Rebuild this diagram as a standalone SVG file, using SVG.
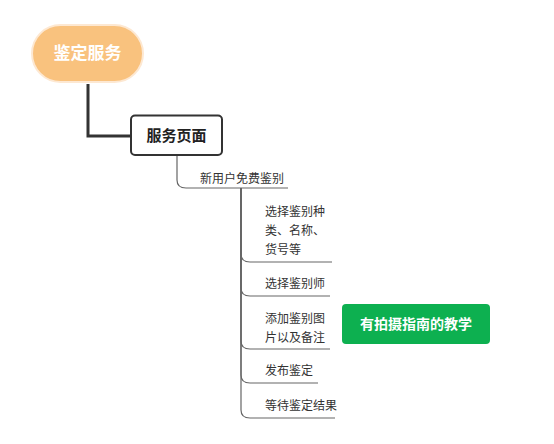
<svg xmlns="http://www.w3.org/2000/svg" width="554" height="444" viewBox="0 0 554 444">
<style>
text{font-family:"Noto Sans CJK SC","Noto Sans",sans-serif;}
.sub{font-size:12px;fill:#333;}
.thin{fill:none;stroke:#666;stroke-width:1.2;}
</style>
<rect width="554" height="444" fill="#fff"/>
<g id="connectors">
<path d="M88,84 V136 H131" fill="none" stroke="#333" stroke-width="3"/>
<path class="thin" d="M177,155 V180 Q177,188 186,188 H288"/>
<path class="thin" d="M241,188 V254 Q241,262 250,262 H332"/>
<path class="thin" d="M241,188 V288 Q241,296 250,296 H330"/>
<path class="thin" d="M241,188 V341 Q241,349 250,349 H330"/>
<path class="thin" d="M241,188 V375 Q241,383 250,383 H318"/>
<path class="thin" d="M241,188 V410 Q241,418 250,418 H335"/>
</g>
<g id="root">
<rect x="32" y="25" width="111" height="57" rx="28.5" fill="#F9C27E" stroke="#FDE8D2" stroke-width="2"/>
<text x="87.5" y="59" font-size="17" font-weight="bold" fill="#fff" text-anchor="middle">鉴定服务</text>
</g>
<g id="page">
<rect x="131" y="115.5" width="91" height="39.5" rx="4" fill="#fff" stroke="#333" stroke-width="2"/>
<text x="176.5" y="140.5" font-size="15" font-weight="bold" fill="#222" text-anchor="middle">服务页面</text>
</g>
<g id="newuser"><text class="sub" x="200" y="183">新用户免费鉴别</text></g>
<g id="choose-type"><text class="sub" x="265" y="216">选择鉴别种</text><text class="sub" x="265" y="235">类、名称、</text><text class="sub" x="265" y="254">货号等</text></g>
<g id="choose-expert"><text class="sub" x="265" y="288">选择鉴别师</text></g>
<g id="add-photo"><text class="sub" x="265" y="323">添加鉴别图</text><text class="sub" x="265" y="342">片以及备注</text></g>
<g id="publish"><text class="sub" x="265" y="375">发布鉴定</text></g>
<g id="wait"><text class="sub" x="265" y="410">等待鉴定结果</text></g>
<g id="guide">
<rect x="342" y="304" width="148" height="40" rx="4" fill="#0DB050"/>
<text x="416" y="329" font-size="14" font-weight="bold" fill="#fff" text-anchor="middle">有拍摄指南的教学</text>
</g>
</svg>
